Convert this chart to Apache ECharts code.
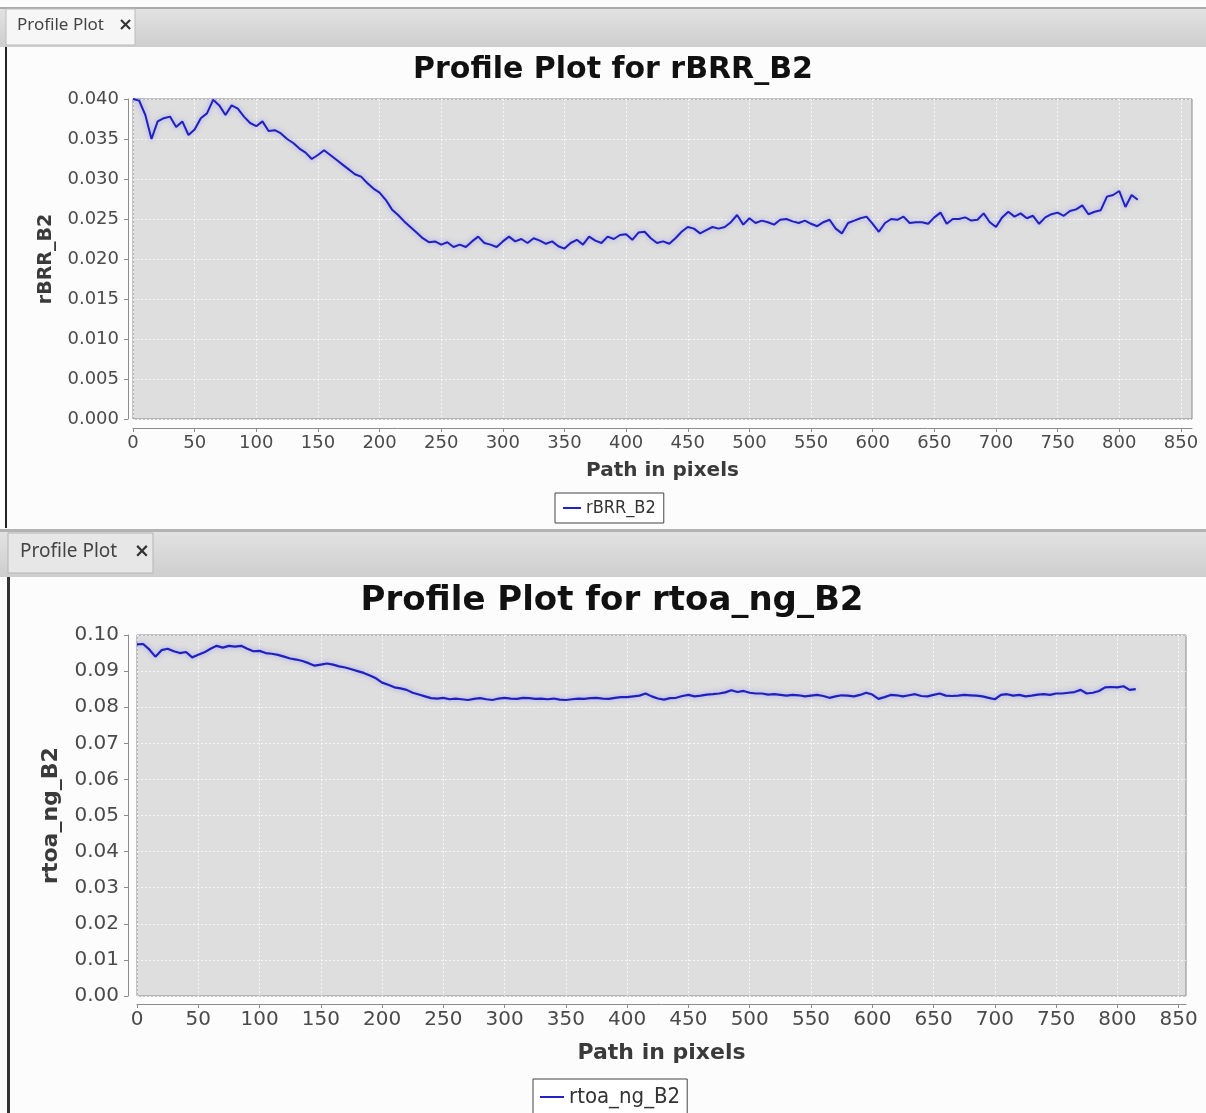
<!DOCTYPE html>
<html><head><meta charset="utf-8">
<script src="https://cdn.jsdelivr.net/npm/echarts@6/dist/echarts.min.js"></script>
<style>html,body{margin:0;padding:0;background:#fcfcfc}#c{width:1206px;height:1113px}</style>
</head><body><div id="c"></div><script>
// sample spacing along the path (pixels)
const STEP = 5;
const xTickLabels = [0,50,100,150,200,250,300,350,400,450,500,550,600,650,700,750,800,850];
const titles = ['Profile Plot for rBRR_B2', 'Profile Plot for rtoa_ng_B2'];
const seriesNames = ['rBRR_B2', 'rtoa_ng_B2'];
const tabLabel = 'Profile Plot';

// values read at x = 0, 5, 10, ... 815
const rBRR_B2 = [
 .0400,.0398,.0380,.0350,.0372,.0376,.0378,.0365,.0372,.0355,
 .0362,.0376,.0382,.0399,.0392,.0380,.0392,.0388,.0378,.0370,
 .0366,.0372,.0360,.0361,.0357,.0350,.0345,.0338,.0333,.0325,
 .0330,.0336,.0330,.0324,.0318,.0312,.0306,.0303,.0295,.0288,
 .0283,.0274,.0262,.0255,.0247,.0240,.0233,.0226,.0221,.0222,
 .0218,.0221,.0215,.0218,.0215,.0222,.0228,.0220,.0218,.0215,
 .0222,.0228,.0222,.0225,.0220,.0226,.0223,.0219,.0222,.0216,
 .0213,.0220,.0224,.0218,.0228,.0223,.0220,.0228,.0225,.0230,
 .0231,.0224,.0233,.0234,.0226,.0220,.0222,.0219,.0226,.0234,
 .0240,.0238,.0232,.0236,.0240,.0238,.0240,.0246,.0255,.0243,
 .0251,.0245,.0248,.0246,.0243,.0249,.0250,.0247,.0245,.0248,
 .0244,.0241,.0246,.0249,.0238,.0232,.0245,.0248,.0251,.0253,
 .0244,.0234,.0245,.0250,.0249,.0253,.0245,.0246,.0246,.0244,
 .0252,.0258,.0244,.0250,.0250,.0252,.0248,.0249,.0257,.0246,
 .0240,.0252,.0259,.0253,.0257,.0251,.0254,.0244,.0252,.0256,
 .0258,.0254,.0260,.0262,.0267,.0256,.0259,.0261,.0278,.0280,
 .0285,.0265,.0280,.0274
];
const rtoa_ng_B2 = [
 .0974,.0975,.0960,.0940,.0958,.0962,.0955,.0950,.0953,.0938,
 .0945,.0952,.0962,.0970,.0965,.0970,.0968,.0970,.0962,.0955,
 .0956,.0950,.0948,.0945,.0940,.0935,.0932,.0928,.0922,.0915,
 .0918,.0921,.0918,.0913,.0910,.0905,.0900,.0895,.0888,.0880,
 .0868,.0862,.0855,.0852,.0848,.0840,.0835,.0830,.0825,.0824,
 .0826,.0822,.0824,.0822,.0820,.0823,.0825,.0822,.0820,.0824,
 .0826,.0824,.0823,.0826,.0825,.0823,.0824,.0822,.0824,.0821,
 .0820,.0822,.0824,.0823,.0825,.0826,.0824,.0823,.0826,.0828,
 .0828,.0830,.0832,.0838,.0830,.0824,.0821,.0825,.0826,.0831,
 .0834,.0830,.0832,.0835,.0836,.0838,.0841,.0847,.0842,.0845,
 .0840,.0838,.0838,.0835,.0836,.0834,.0832,.0834,.0833,.0830,
 .0832,.0834,.0831,.0826,.0830,.0833,.0832,.0830,.0834,.0840,
 .0835,.0823,.0828,.0834,.0833,.0830,.0833,.0836,.0831,.0830,
 .0834,.0838,.0832,.0831,.0832,.0834,.0833,.0832,.0830,.0826,
 .0822,.0834,.0836,.0832,.0834,.0830,.0832,.0835,.0836,.0834,
 .0838,.0838,.0840,.0842,.0848,.0838,.0840,.0845,.0855,.0856,
 .0855,.0858,.0848,.0850
];

const toPairs = arr => arr.map((v, i) => [i * STEP, v]);
const FONT = 'DejaVu Sans';
const chart = echarts.init(document.getElementById('c'), null, {renderer: 'canvas'});

function xAxisCfg(gi, max, offset, fs, nfs, gap) {
  return {
    gridIndex: gi, type: 'value', min: 0, max: max, interval: 50, offset: offset,
    axisLine: {show: true, onZero: false, lineStyle: {color: '#8c8c8c', width: 1}},
    axisTick: {show: true, length: 4, customValues: xTickLabels, lineStyle: {color: '#8c8c8c'}},
    axisLabel: {customValues: xTickLabels, fontFamily: FONT, fontSize: fs, color: '#4a4a4a', margin: 6},
    splitLine: {show: true, lineStyle: {color: 'rgba(255,255,255,0.75)', type: [2, 2], width: 1}},
    name: 'Path in pixels', nameLocation: 'middle', nameGap: gap,
    nameTextStyle: {fontFamily: FONT, fontWeight: 'bold', fontSize: nfs, color: '#3a3a3a'}
  };
}
function yAxisCfg(gi, max, interval, dec, name, offset, fs, nfs, gap) {
  return {
    gridIndex: gi, type: 'value', min: 0, max: max, interval: interval, offset: offset,
    axisLine: {show: true, onZero: false, lineStyle: {color: '#8c8c8c', width: 1}},
    axisTick: {show: true, length: 4, lineStyle: {color: '#8c8c8c'}},
    axisLabel: {fontFamily: FONT, fontSize: fs, color: '#4a4a4a', margin: 9,
      formatter: v => v.toFixed(dec)},
    splitLine: {show: true, lineStyle: {color: 'rgba(255,255,255,0.75)', type: [2, 2], width: 1}},
    name: name, nameLocation: 'middle', nameGap: gap, nameRotate: 90,
    nameTextStyle: {fontFamily: FONT, fontWeight: 'bold', fontSize: nfs, color: '#3a3a3a'}
  };
}
const barGrad = {type: 'linear', x: 0, y: 0, x2: 0, y2: 1,
  colorStops: [{offset: 0, color: '#e3e3e3'}, {offset: 1, color: '#cecece'}]};

const option = {
  backgroundColor: '#fcfcfc',
  animation: false,
  title: [
    {text: titles[0], left: 613, top: 55, textAlign: 'center', padding: 0,
     textStyle: {fontFamily: FONT, fontWeight: 'bold', fontSize: 30, color: '#111'}},
    {text: titles[1], left: 612, top: 584, textAlign: 'center', padding: 0,
     textStyle: {fontFamily: FONT, fontWeight: 'bold', fontSize: 34, color: '#111'}}
  ],
  legend: [
    {data: [seriesNames[0]], left: 555, top: 493, padding: [6, 8], borderColor: '#444', borderWidth: 1,
     backgroundColor: '#fff', icon: 'rect', itemWidth: 18, itemHeight: 2, itemGap: 4,
     textStyle: {fontFamily: 'DejaVu Sans Condensed', fontSize: 18, color: '#333'}},
    {data: [seriesNames[1]], left: 533, top: 1079, padding: [7, 7], borderColor: '#444', borderWidth: 1,
     backgroundColor: '#fff', icon: 'rect', itemWidth: 24, itemHeight: 2, itemGap: 5,
     textStyle: {fontFamily: 'DejaVu Sans Condensed', fontSize: 22, color: '#333'}}
  ],
  grid: [
    {left: 133, top: 99, width: 1059, height: 320, show: true, backgroundColor: '#dedede',
     borderColor: '#8a8a8a', borderWidth: 1},
    {left: 137, top: 635, width: 1049, height: 361, show: true, backgroundColor: '#dedede',
     borderColor: '#8a8a8a', borderWidth: 1}
  ],
  xAxis: [xAxisCfg(0, 859, 9, 18, 20, 33), xAxisCfg(1, 856, 8, 20, 22, 38)],
  yAxis: [
    yAxisCfg(0, 0.040, 0.005, 3, seriesNames[0], 5, 18, 19, 72),
    yAxisCfg(1, 0.10, 0.01, 2, seriesNames[1], 9, 20, 22, 66)
  ],
  series: [
    {name: seriesNames[0], type: 'line', xAxisIndex: 0, yAxisIndex: 0, data: toPairs(rBRR_B2),
     showSymbol: false, symbol: 'none', color: '#2121c4',
     lineStyle: {width: 2, color: '#2020c0', shadowColor: 'rgba(90,90,255,0.5)', shadowBlur: 5}},
    {name: seriesNames[1], type: 'line', xAxisIndex: 1, yAxisIndex: 1, data: toPairs(rtoa_ng_B2),
     showSymbol: false, symbol: 'none', color: '#2121c4',
     lineStyle: {width: 2.2, color: '#2020c0', shadowColor: 'rgba(90,90,255,0.5)', shadowBlur: 5}}
  ],
  graphic: [
    // top tab bar
    {type: 'rect', z: -5, shape: {x: 0, y: 7, width: 1206, height: 40}, style: {fill: barGrad}},
    {type: 'rect', z: -4, shape: {x: 0, y: 7, width: 1206, height: 2}, style: {fill: '#ababab'}},
    {type: 'rect', z: -3, shape: {x: 6, y: 9, width: 129, height: 36},
     style: {fill: '#f6f6f6', stroke: '#bcbcbc', lineWidth: 1}},
    {type: 'text', z: 10, style: {text: tabLabel, x: 17, y: 25, verticalAlign: 'middle',
      font: '17px "Noto Sans"', fill: '#444'}},
    {type: 'text', z: 10, style: {text: '×', x: 118, y: 25, verticalAlign: 'middle',
      font: 'bold 18px "DejaVu Sans"', fill: '#333'}},
    {type: 'rect', z: -3, shape: {x: 5, y: 47, width: 2, height: 481}, style: {fill: '#222'}},
    // middle tab bar
    {type: 'rect', z: -5, shape: {x: 0, y: 529, width: 1206, height: 48}, style: {fill: barGrad}},
    {type: 'rect', z: -4, shape: {x: 0, y: 529, width: 1206, height: 3}, style: {fill: '#b3b3b3'}},
    {type: 'rect', z: -3, shape: {x: 8, y: 533, width: 145, height: 40},
     style: {fill: '#e7e7e7', stroke: '#b5b5b5', lineWidth: 1}},
    {type: 'text', z: 10, style: {text: tabLabel, x: 20, y: 552, verticalAlign: 'middle',
      font: '19px "Noto Sans"', fill: '#444'}},
    {type: 'text', z: 10, style: {text: '×', x: 134, y: 552, verticalAlign: 'middle',
      font: 'bold 19px "DejaVu Sans"', fill: '#333'}},
    {type: 'rect', z: -3, shape: {x: 7, y: 577, width: 3, height: 536}, style: {fill: '#333'}}
  ]
};
chart.setOption(option);
</script></body></html>
